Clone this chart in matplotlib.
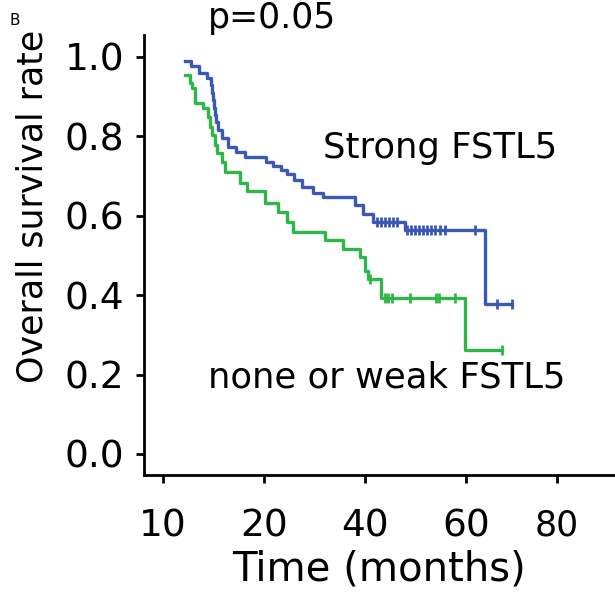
import numpy as np
import matplotlib
matplotlib.use("Agg")
import matplotlib.pyplot as plt

# survival steps (time in months, survival after the step)
strong_t = [4.4, 5.5, 7.1, 8.7, 9.5, 9.7, 9.9, 10.1, 10.3, 10.5, 10.9, 11.7, 12.9, 14.5,
            16.2, 20.4, 21.8, 23.4, 24.6, 25.9, 27.5, 29.7, 31.7, 38.0, 39.6, 41.6, 47.9,
            63.8, 69.1]
strong_s = [0.990, 0.977, 0.960, 0.947, 0.930, 0.910, 0.892, 0.872, 0.854, 0.837, 0.817,
            0.796, 0.774, 0.761, 0.749, 0.736, 0.724, 0.716, 0.704, 0.691, 0.673, 0.658,
            0.646, 0.628, 0.603, 0.585, 0.565, 0.377, 0.377]
strong_cens_t = [42.4, 43.2, 44.0, 44.8, 45.5, 46.3, 48.3, 49.1, 49.9, 50.7, 51.5, 52.3,
                 53.1, 53.9, 54.9, 55.8, 61.8, 66.1, 69.1]

weak_t = [4.4, 5.4, 5.7, 6.3, 7.9, 8.9, 9.3, 9.7, 10.3, 10.7, 11.7, 12.3, 15.3, 16.6,
          20.2, 22.8, 24.6, 25.7, 32.1, 35.6, 39.0, 40.0, 40.6, 43.2, 59.8, 67.1]
weak_s = [0.955, 0.935, 0.922, 0.884, 0.872, 0.849, 0.824, 0.804, 0.779, 0.759, 0.734,
          0.711, 0.683, 0.661, 0.633, 0.608, 0.585, 0.560, 0.540, 0.515, 0.495, 0.460,
          0.440, 0.392, 0.261, 0.261]
weak_cens_t = [41.0, 44.0, 44.6, 45.3, 48.9, 54.1, 54.7, 57.8, 67.1]

tick_pos = [0, 20, 40, 60, 78]
tick_lab = ["10", "20", "40", "60", "80"]

blue = "#3c58b6"
green = "#30b548"


def surv_at(ts, ss, t):
    i = np.searchsorted(ts, t, side="right") - 1
    return ss[i]


fig = plt.figure(figsize=(6.15, 5.93), dpi=100)
ax = fig.add_axes([0.234, 0.199, 0.766, 0.742])

for ts, ss, ct, c in [(strong_t, strong_s, strong_cens_t, blue),
                      (weak_t, weak_s, weak_cens_t, green)]:
    ax.step(ts, ss, where="post", color=c, lw=2.4)
    cs = [surv_at(ts, ss, t) for t in ct]
    ax.plot(ct, cs, ls="none", marker="|", ms=7, mew=2, color=c)

ax.set_xlim(-3.8, 89.5)
ax.set_ylim(-0.053, 1.055)
ax.set_yticks([0.0, 0.2, 0.4, 0.6, 0.8, 1.0])
ax.set_yticklabels(["0.0", "0.2", "0.4", "0.6", "0.8", "1.0"])
ax.set_xticks(tick_pos)
ax.set_xticklabels(tick_lab)
ax.tick_params(axis="both", labelsize=27, width=2, length=6)
ax.tick_params(axis="y", pad=8)
ax.tick_params(axis="x", pad=18)
# the "80" label is drawn a bit smaller in the original
ax.get_xticklabels()[-1].set_fontsize(25)
ax.spines["top"].set_visible(False)
ax.spines["right"].set_visible(False)
ax.spines["left"].set_linewidth(2)
ax.spines["bottom"].set_linewidth(2)
ax.set_xlabel("Time (months)", fontsize=29, labelpad=4)
ax.set_ylabel("Overall survival rate", fontsize=25)
ax.yaxis.set_label_coords(-0.2, 0.61)

ax.text(31.7, 0.746, "Strong FSTL5", fontsize=25.5, va="baseline")
ax.text(8.9, 0.193, "none or weak FSTL5", fontsize=25.5, va="center")
ax.text(8.9, 1.055, "p=0.05", fontsize=25, va="bottom", clip_on=False)
fig.text(0.016, 0.958, "B", fontsize=11)

plt.savefig("out.png", dpi=100)
